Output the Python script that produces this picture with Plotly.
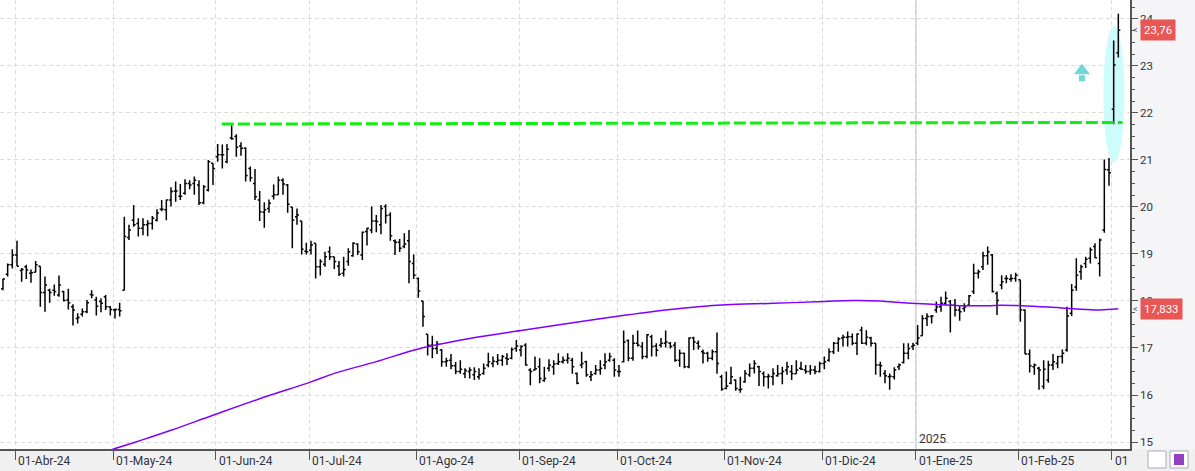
import plotly.graph_objects as go
import pandas as pd

# ---------------- data ----------------
holidays = ["2024-03-29", "2024-04-01", "2024-05-01", "2024-12-25", "2024-12-26", "2025-01-01"]
dates = pd.bdate_range("2024-03-26", "2025-03-04", freq="C", holidays=holidays)

opens = [18.26, 18.57, 18.77, 18.98, 18.65, 18.73, 18.59, 18.61, 18.74, 18.18,
         18.23, 18.23, 18.13, 18.20, 18.02, 17.88, 17.63, 17.72, 17.77, 18.14,
         18.02, 17.99, 18.09, 17.88, 17.81, 17.82, 18.23, 19.35, 19.72, 19.65,
         19.55, 19.62, 19.65, 19.72, 19.95, 19.94, 20.15, 20.34, 20.23, 20.29,
         20.50, 20.50, 20.47, 20.09, 20.36, 20.93, 21.07, 21.11, 20.96, 21.47,
         21.50, 21.30, 21.25, 20.82, 20.50, 20.15, 19.89, 19.97, 20.23, 20.26,
         20.57, 20.47, 20.00, 19.79, 19.70, 19.06, 19.08, 19.23, 18.73, 18.78,
         19.05, 18.94, 18.74, 18.59, 18.84, 18.96, 19.21, 18.98, 19.48, 19.51,
         19.70, 19.62, 20.01, 19.83, 19.28, 19.25, 19.16, 19.28, 18.80, 18.48,
         18.00, 17.29, 17.06, 16.99, 16.96, 16.71, 16.74, 16.62, 16.50, 16.45,
         16.50, 16.43, 16.39, 16.46, 16.64, 16.67, 16.71, 16.74, 16.78, 16.78,
         16.99, 16.96, 17.06, 16.53, 16.53, 16.60, 16.31, 16.57, 16.60, 16.67,
         16.71, 16.74, 16.74, 16.46, 16.64, 16.71, 16.39, 16.46, 16.53, 16.64,
         16.74, 16.74, 16.50, 16.71, 17.16, 16.78, 17.10, 17.03, 16.82, 17.24,
         17.04, 17.06, 17.10, 17.10, 17.06, 16.74, 16.89, 16.60, 17.21, 17.10,
         16.92, 16.89, 16.78, 16.92, 16.39, 16.14, 16.25, 16.32, 16.11, 16.28,
         16.43, 16.57, 16.60, 16.46, 16.39, 16.39, 16.41, 16.46, 16.53, 16.50,
         16.45, 16.57, 16.53, 16.50, 16.53, 16.50, 16.67, 16.74, 16.92, 17.10,
         17.21, 17.23, 17.24, 17.10, 17.38, 17.10, 17.21, 17.10, 16.64, 16.46,
         16.39, 16.39, 16.60, 16.69, 16.89, 17.03, 17.10, 17.26, 17.63, 17.67,
         17.81, 17.88, 17.95, 17.99, 17.91, 17.81, 17.84, 17.91, 18.20, 18.59,
         18.73, 18.96, 18.98, 18.16, 18.34, 18.48, 18.46, 18.48, 18.45, 17.81,
         16.87, 16.60, 16.57, 16.18, 16.32, 16.64, 16.67, 16.82, 16.96, 17.74,
         18.30, 18.62, 18.80, 18.91, 19.16, 18.80, 19.51, 20.79, 22.08, 23.28]

highs = [18.48, 18.80, 19.10, 19.28, 18.70, 18.77, 18.67, 18.85, 18.74, 18.52,
         18.26, 18.35, 18.54, 18.21, 18.26, 17.93, 17.74, 17.84, 18.02, 18.23,
         18.09, 18.06, 18.13, 17.89, 17.84, 17.96, 19.79, 19.62, 20.04, 19.76,
         19.76, 19.72, 19.81, 19.95, 20.15, 20.16, 20.42, 20.54, 20.49, 20.59,
         20.57, 20.65, 20.57, 20.47, 21.00, 20.93, 21.34, 21.33, 21.34, 21.74,
         21.55, 21.38, 21.27, 20.86, 20.81, 20.34, 20.10, 20.16, 20.48, 20.65,
         20.61, 20.49, 20.00, 19.97, 19.70, 19.24, 19.28, 19.23, 18.89, 19.05,
         19.16, 18.94, 18.85, 18.94, 19.12, 19.25, 19.23, 19.48, 19.56, 20.01,
         19.83, 20.04, 20.06, 19.89, 19.31, 19.32, 19.44, 19.51, 18.99, 18.50,
         18.00, 17.29, 17.26, 17.15, 16.98, 16.79, 16.87, 16.70, 16.74, 16.57,
         16.59, 16.59, 16.57, 16.67, 16.90, 16.82, 16.87, 16.85, 16.89, 17.01,
         17.17, 17.06, 17.10, 16.57, 16.82, 16.78, 16.60, 16.76, 16.74, 16.89,
         16.82, 16.89, 16.79, 16.48, 16.92, 16.73, 16.51, 16.64, 16.74, 16.89,
         16.90, 16.78, 16.64, 17.37, 17.18, 17.28, 17.37, 17.13, 17.30, 17.28,
         17.10, 17.21, 17.37, 17.13, 17.13, 16.97, 16.90, 17.23, 17.24, 17.16,
         16.97, 16.92, 16.97, 17.33, 16.43, 16.50, 16.60, 16.33, 16.39, 16.53,
         16.67, 16.74, 16.62, 16.50, 16.45, 16.57, 16.64, 16.60, 16.71, 16.64,
         16.74, 16.71, 16.64, 16.64, 16.62, 16.71, 16.82, 16.99, 17.13, 17.23,
         17.28, 17.35, 17.31, 17.31, 17.45, 17.38, 17.24, 17.10, 16.71, 16.53,
         16.46, 16.59, 16.67, 17.10, 17.10, 17.11, 17.49, 17.70, 17.74, 17.70,
         17.99, 18.09, 18.20, 18.02, 18.04, 17.89, 17.95, 18.13, 18.79, 18.67,
         19.05, 19.16, 19.00, 18.20, 18.55, 18.55, 18.57, 18.60, 18.45, 17.82,
         16.97, 16.67, 16.60, 16.74, 16.73, 16.87, 16.83, 16.97, 17.88, 18.36,
         18.91, 18.77, 18.94, 19.14, 19.23, 19.33, 21.01, 21.04, 23.54, 24.11]

lows = [18.23, 18.52, 18.69, 18.74, 18.41, 18.47, 18.39, 18.61, 17.88, 17.77,
        17.96, 18.11, 18.09, 17.99, 17.82, 17.48, 17.52, 17.67, 17.74, 18.06,
        17.69, 17.76, 17.81, 17.69, 17.63, 17.67, 18.23, 19.30, 19.58, 19.37,
        19.40, 19.38, 19.52, 19.69, 19.91, 19.72, 20.01, 20.11, 20.15, 20.26,
        20.38, 20.26, 20.04, 20.06, 20.33, 20.47, 20.96, 20.82, 20.93, 21.43,
        21.07, 21.09, 20.54, 20.54, 20.15, 19.70, 19.56, 19.88, 20.16, 20.26,
        20.26, 19.88, 19.12, 19.62, 18.99, 18.99, 18.99, 18.48, 18.54, 18.73,
        18.87, 18.68, 18.53, 18.52, 18.75, 18.94, 18.98, 18.87, 19.18, 19.44,
        19.46, 19.42, 19.65, 19.28, 18.98, 19.04, 19.12, 18.38, 18.47, 18.07,
        17.45, 16.84, 16.78, 16.87, 16.60, 16.60, 16.55, 16.44, 16.45, 16.36,
        16.35, 16.32, 16.33, 16.43, 16.59, 16.59, 16.64, 16.62, 16.64, 16.76,
        16.92, 16.82, 16.62, 16.21, 16.52, 16.25, 16.28, 16.50, 16.43, 16.64,
        16.67, 16.67, 16.45, 16.23, 16.57, 16.39, 16.30, 16.43, 16.43, 16.55,
        16.71, 16.39, 16.39, 16.69, 16.72, 16.73, 17.03, 16.76, 16.78, 16.82,
        16.82, 17.01, 17.01, 16.99, 16.71, 16.60, 16.57, 16.57, 16.96, 16.97,
        16.67, 16.71, 16.74, 16.45, 16.09, 16.12, 16.23, 16.09, 16.05, 16.26,
        16.39, 16.46, 16.19, 16.18, 16.14, 16.21, 16.39, 16.23, 16.43, 16.32,
        16.45, 16.53, 16.45, 16.43, 16.44, 16.48, 16.55, 16.71, 16.87, 16.92,
        17.03, 17.03, 17.06, 16.85, 17.09, 17.06, 17.03, 16.43, 16.39, 16.25,
        16.11, 16.33, 16.53, 16.67, 16.76, 16.96, 17.06, 17.26, 17.47, 17.52,
        17.75, 17.77, 17.91, 17.33, 17.67, 17.58, 17.77, 17.91, 18.15, 18.48,
        18.66, 18.77, 18.18, 17.70, 18.25, 18.38, 18.41, 18.41, 17.56, 16.87,
        16.48, 16.43, 16.11, 16.12, 16.26, 16.53, 16.57, 16.67, 16.92, 17.68,
        18.22, 18.45, 18.70, 18.80, 18.91, 18.52, 19.45, 20.45, 21.76, 23.18]

closes = [18.47, 18.77, 18.98, 18.74, 18.67, 18.66, 18.60, 18.77, 18.18, 18.34,
          18.18, 18.20, 18.34, 18.01, 17.96, 17.81, 17.65, 17.77, 17.96, 18.13,
          17.89, 17.95, 17.88, 17.82, 17.82, 17.79, 19.37, 19.51, 19.62, 19.55,
          19.62, 19.65, 19.76, 19.87, 19.95, 20.15, 20.33, 20.34, 20.23, 20.50,
          20.47, 20.57, 20.09, 20.43, 20.96, 20.82, 21.11, 21.11, 21.23, 21.45,
          21.27, 21.25, 20.67, 20.62, 20.22, 19.90, 19.94, 20.08, 20.26, 20.57,
          20.49, 20.06, 19.72, 19.83, 19.10, 19.05, 19.19, 18.73, 18.84, 18.94,
          18.94, 18.84, 18.57, 18.67, 19.05, 19.23, 19.05, 19.46, 19.55, 19.70,
          19.69, 19.97, 19.82, 19.39, 19.25, 19.12, 19.21, 18.84, 18.55, 18.21,
          17.67, 17.06, 16.99, 17.08, 16.71, 16.73, 16.62, 16.50, 16.55, 16.52,
          16.53, 16.50, 16.43, 16.57, 16.71, 16.72, 16.74, 16.82, 16.76, 16.97,
          17.04, 17.03, 16.64, 16.50, 16.56, 16.35, 16.35, 16.64, 16.66, 16.71,
          16.74, 16.78, 16.60, 16.25, 16.67, 16.43, 16.43, 16.53, 16.57, 16.71,
          16.82, 16.53, 16.50, 17.13, 16.78, 17.10, 17.06, 16.82, 17.28, 17.03,
          16.95, 17.10, 17.13, 17.03, 16.74, 16.89, 16.60, 17.21, 17.13, 17.03,
          16.89, 16.78, 16.92, 16.67, 16.12, 16.19, 16.39, 16.14, 16.12, 16.46,
          16.57, 16.67, 16.50, 16.39, 16.40, 16.46, 16.45, 16.50, 16.60, 16.46,
          16.53, 16.55, 16.50, 16.53, 16.50, 16.67, 16.71, 16.92, 17.10, 17.19,
          17.23, 17.24, 17.10, 17.30, 17.10, 17.23, 17.10, 16.64, 16.62, 16.41,
          16.40, 16.53, 16.64, 16.89, 16.99, 17.06, 17.21, 17.63, 17.67, 17.68,
          17.87, 17.95, 18.06, 17.91, 17.81, 17.77, 17.87, 18.11, 18.59, 18.62,
          18.96, 19.05, 18.20, 18.01, 18.41, 18.48, 18.48, 18.55, 17.81, 16.87,
          16.62, 16.64, 16.53, 16.55, 16.64, 16.71, 16.82, 16.89, 17.68, 18.23,
          18.55, 18.73, 18.89, 19.09, 18.92, 19.30, 20.80, 20.73, 23.02, 23.76]

# moving average (purple), read at selected bars
ma_idx = [20, 24, 30, 36, 45, 55, 66, 71, 80, 89, 100, 111, 121, 132, 142, 149,
          155, 165, 176, 182, 188, 193, 199, 205, 211, 214, 218, 224, 230, 235, 239]
ma_val = [14.73, 14.86, 15.05, 15.25, 15.57, 15.92, 16.28, 16.46, 16.71, 16.98,
          17.20, 17.37, 17.52, 17.68, 17.81, 17.88, 17.92, 17.95, 17.99, 18.01,
          18.00, 17.96, 17.93, 17.90, 17.90, 17.91, 17.90, 17.87, 17.83, 17.81, 17.833]

# resistance level (green dashed)
level_idx = [46.9, 239.9]
level_val = [21.765, 21.80]

# highlight ellipse and up-arrow
highlight_x = [235.8, 240.3]
highlight_y = [20.94, 23.84]
arrow_x = 231.2
arrow_head_y = 22.90
arrow_shaft_y = 22.74

tick_labels = ["01-Abr-24", "01-May-24", "01-Jun-24", "01-Jul-24", "01-Ago-24", "01-Sep-24",
               "01-Oct-24", "01-Nov-24", "01-Dic-24", "01-Ene-25", "01-Feb-25", "01"]
year_label = "2025"
last_close_label = "23,76"
ma_last_label = "17,833"

# ---------------- figure ----------------
idx = list(range(len(dates)))
month_first = [i for i in range(1, len(dates)) if dates[i].month != dates[i - 1].month]
tick_pos = [i - 0.4 for i in month_first]
jan_pos = tick_pos[tick_labels.index("01-Ene-25")]

fig = go.Figure()

fig.add_trace(go.Scatter(x=ma_idx, y=ma_val, mode="lines", line_shape="spline",
                         line=dict(color="#7f00ff", width=1.5), hoverinfo="skip"))

fig.add_trace(go.Ohlc(x=idx, open=opens, high=highs, low=lows, close=closes,
                      increasing=dict(line=dict(color="black", width=1.5)),
                      decreasing=dict(line=dict(color="black", width=1.5)),
                      tickwidth=0.42, hoverinfo="skip"))

fig.add_trace(go.Scatter(x=level_idx, y=level_val, mode="lines",
                         line=dict(color="#11ee11", width=3, dash="12px,4px"),
                         hoverinfo="skip"))

fig.add_trace(go.Scatter(x=[arrow_x, arrow_x], y=[arrow_head_y, arrow_shaft_y], mode="markers",
                         marker=dict(symbol=["triangle-up", "square"], size=[14, 6],
                                     color="#33c6c6", line=dict(width=0)),
                         hoverinfo="skip"))

shapes = [
    dict(type="rect", xref="paper", yref="paper", x0=1, x1=1 + 65 / 1130, y0=0, y1=1,
         fillcolor="#f5f5f7", line=dict(width=0), layer="below"),
    dict(type="line", xref="x", yref="paper", x0=jan_pos, x1=jan_pos, y0=0, y1=1,
         line=dict(color="#c8c8c8", width=1.5), layer="between"),
    dict(type="circle", xref="x", yref="y", x0=highlight_x[0], x1=highlight_x[1],
         y0=highlight_y[0], y1=highlight_y[1], fillcolor="#ccfcfc",
         line=dict(width=0), layer="between"),
    # toolbar buttons bottom-right
    dict(type="rect", xref="paper", yref="paper", x0=1 + 18 / 1130, x1=1 + 36 / 1130,
         y0=-2 / 449, y1=-19 / 449, fillcolor="white", line=dict(color="#aab", width=1)),
    dict(type="rect", xref="paper", yref="paper", x0=1 + 40 / 1130, x1=1 + 58 / 1130,
         y0=-2 / 449, y1=-19 / 449, fillcolor="white", line=dict(color="#aab", width=1)),
    dict(type="rect", xref="paper", yref="paper", x0=1 + 44 / 1130, x1=1 + 54 / 1130,
         y0=-5 / 449, y1=-16 / 449, fillcolor="#9040c0", line=dict(width=0)),
]

annotations = []
for pos, lab in zip(tick_pos, tick_labels):
    annotations.append(dict(x=pos, y=0, xref="x", yref="paper", text=lab, showarrow=False,
                            xanchor="left", yanchor="top", xshift=1, yshift=-3,
                            font=dict(family="Roboto", size=12, color="#333340")))
annotations.append(dict(x=jan_pos, y=0, xref="x", yref="paper", text=year_label, showarrow=False,
                        xanchor="left", yanchor="bottom", xshift=1, yshift=1,
                        font=dict(family="Roboto", size=12, color="#333340")))
for val, lab in [(closes[-1], last_close_label), (ma_val[-1], ma_last_label)]:
    annotations.append(dict(x=1 + 10 / 1130, y=val, xref="paper", yref="y", text=lab,
                            showarrow=False, xanchor="left", yanchor="middle",
                            bgcolor="#e85656", borderpad=3,
                            font=dict(family="Roboto", size=11.5, color="white")))
    annotations.append(dict(x=1 + 1 / 1130, y=val, xref="paper", yref="y", text="<",
                            showarrow=False, xanchor="left", yanchor="middle",
                            font=dict(family="Roboto", size=9, color="#555")))

fig.update_layout(
    width=1195, height=471,
    margin=dict(l=0, r=65, t=0, b=22),
    paper_bgcolor="#f0f0f0", plot_bgcolor="white",
    showlegend=False,
    shapes=shapes, annotations=annotations,
    xaxis=dict(range=[-0.64, 241.5], tickvals=tick_pos, showticklabels=False,
               ticks="outside", ticklen=9, tickcolor="#555", tickwidth=1,
               showline=True, linecolor="#555", linewidth=1.5,
               showgrid=True, gridcolor="#dcdcdc", griddash="4px,3px", gridwidth=1,
               zeroline=False, rangeslider=dict(visible=False), fixedrange=True),
    yaxis=dict(range=[14.851, 24.404], side="right", dtick=1, tick0=15,
               ticks="outside", ticklen=6, tickcolor="#555", tickwidth=1,
               tickfont=dict(family="Roboto", size=11.5, color="#333340"),
               showline=True, linecolor="#555", linewidth=1.5,
               showgrid=True, gridcolor="#dcdcdc", griddash="4px,3px", gridwidth=1,
               zeroline=False,
               minor=dict(dtick=0.25, ticks="outside", ticklen=3, tickcolor="#555",
                          showgrid=False),
               fixedrange=True),
)

fig.write_html("out.html", config={"displayModeBar": False})
